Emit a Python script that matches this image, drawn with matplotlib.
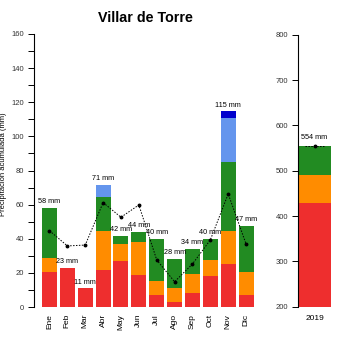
import matplotlib
matplotlib.use("Agg")
import matplotlib.pyplot as plt
import numpy as np

plt.rcParams['font.family'] = ['Liberation Sans', 'DejaVu Sans']

months = ["Ene", "Feb", "Mar", "Abr", "May", "Jun", "Jul", "Ago", "Sep", "Oct", "Nov", "Dic"]
# cumulative tops of stacked layers (mm)
red_top = [20.3, 23, 11, 21.7, 27, 18.8, 7, 3.1, 8, 18.2, 25.4, 7]
orange_top = [28.5, 23, 11, 44.6, 37, 38.1, 15.4, 11.3, 19.4, 27.6, 44.6, 20.3]
green_top = [58.2, 23, 11, 64.3, 41.8, 44, 40, 28.1, 34.2, 39.9, 85.2, 47.5]
lblue_top = [58.2, 23, 11, 71.5, 41.8, 44, 40, 28.1, 34.2, 39.9, 111, 47.5]
dblue_top = [58.2, 23, 11, 71.5, 41.8, 44, 40, 28.1, 34.2, 39.9, 114.8, 47.5]
labels = ["58 mm", "23 mm", "11 mm", "71 mm", "42 mm", "44 mm", "40 mm", "28 mm",
          "34 mm", "40 mm", "115 mm", "47 mm"]
avg_line = [44.7, 35.8, 36.3, 61.2, 52.6, 59.8, 27.6, 14.8, 25.2, 39.3, 66.3, 36.9]

year_label = ["2019"]
year_red = [428]
year_orange = [490]
year_green = [554]
year_avg = [554]
year_text = ["554 mm"]

RED = "#EE2E2E"
ORANGE = "#FF8C00"
GREEN = "#228B22"
LBLUE = "#6495ED"
DBLUE = "#0000CD"

fig = plt.figure(figsize=(3.5, 3.5), dpi=100)
W = H = 350.0

def px_axes(x0, y_top, x1, y_bot):
    return [x0 / W, 1 - y_bot / H, (x1 - x0) / W, (y_bot - y_top) / H]

ax = fig.add_axes(px_axes(34, 34, 256, 307))
x = np.arange(len(months))
bw = 0.84
layers = [(0, red_top, RED), (red_top, orange_top, ORANGE), (orange_top, green_top, GREEN),
          (green_top, lblue_top, LBLUE), (lblue_top, dblue_top, DBLUE)]
for lo, hi, c in layers:
    lo_arr = np.zeros(len(months)) if isinstance(lo, int) else np.array(lo)
    hi_arr = np.array(hi)
    ax.bar(x, hi_arr - lo_arr, bottom=lo_arr, width=bw, color=c, edgecolor='none')
ax.plot(x, avg_line, linestyle=(0, (1.5, 1.5)), color='black', linewidth=0.7,
        marker='o', markersize=1.8)
for i in range(len(months)):
    ax.text(x[i], dblue_top[i] + 1.5, labels[i], ha='center', va='bottom', fontsize=5.2)
ax.set_xlim(-0.867, (256 - 49.5) / 17.87)
ax.set_ylim(0, 160)
ax.set_yticks(np.arange(0, 161, 20))
ax.set_yticks(np.arange(0, 161, 10), minor=True)
ax.tick_params(axis='y', which='both', direction='out', length=4, width=0.7, labelsize=5.5,
               labelcolor='#333333', pad=3)
ax.set_xticks(x)
ax.set_xticklabels(months, rotation=90, fontsize=6)
ax.tick_params(axis='x', length=0, pad=5)
for s in ['top', 'right', 'bottom']:
    ax.spines[s].set_visible(False)
ax.spines['left'].set_linewidth(0.8)
ax.spines['left'].set_bounds(0, 160)
ax.set_ylabel("Precipitación acumulada (mm)", fontsize=5.5)
ax.yaxis.set_label_coords((7 - 34) / 222.0, (307 - 164) / 273.0)

ax2 = fig.add_axes(px_axes(298, 34.7, 331, 306.7))
xx = np.arange(len(year_label))
ax2.bar(xx, np.array(year_red) - 200, bottom=200, width=1.0, color=RED, edgecolor='none')
ax2.bar(xx, np.array(year_orange) - np.array(year_red), bottom=year_red, width=1.0, color=ORANGE, edgecolor='none')
ax2.bar(xx, np.array(year_green) - np.array(year_orange), bottom=year_orange, width=1.0, color=GREEN, edgecolor='none')
ax2.plot([xx[0] - 0.3, xx[0] + 0.3], [year_avg[0], year_avg[0]], linestyle=(0, (1.5, 1.5)),
         color='black', linewidth=0.7)
ax2.plot(xx, year_avg, 'o', color='black', markersize=1.8)
ax2.text(xx[0], year_green[0] + 12, year_text[0], ha='center', va='bottom', fontsize=5.2)
ax2.set_xlim(-0.5, 0.5)
ax2.set_ylim(200, 800)
ax2.set_yticks(np.arange(200, 801, 100))
ax2.tick_params(axis='y', direction='out', length=4, width=0.7, labelsize=5.5,
                labelcolor='#333333', pad=3)
ax2.set_xticks(xx)
ax2.set_xticklabels(year_label, fontsize=6)
ax2.tick_params(axis='x', length=0, pad=6)
for s in ['top', 'right', 'bottom']:
    ax2.spines[s].set_visible(False)
ax2.spines['left'].set_linewidth(0.8)

fig.text(145 / W, 1 - 18 / H, "Villar de Torre", ha='center', va='center', fontsize=10.3,
         fontweight='bold')

fig.savefig("out.png", dpi=100)
